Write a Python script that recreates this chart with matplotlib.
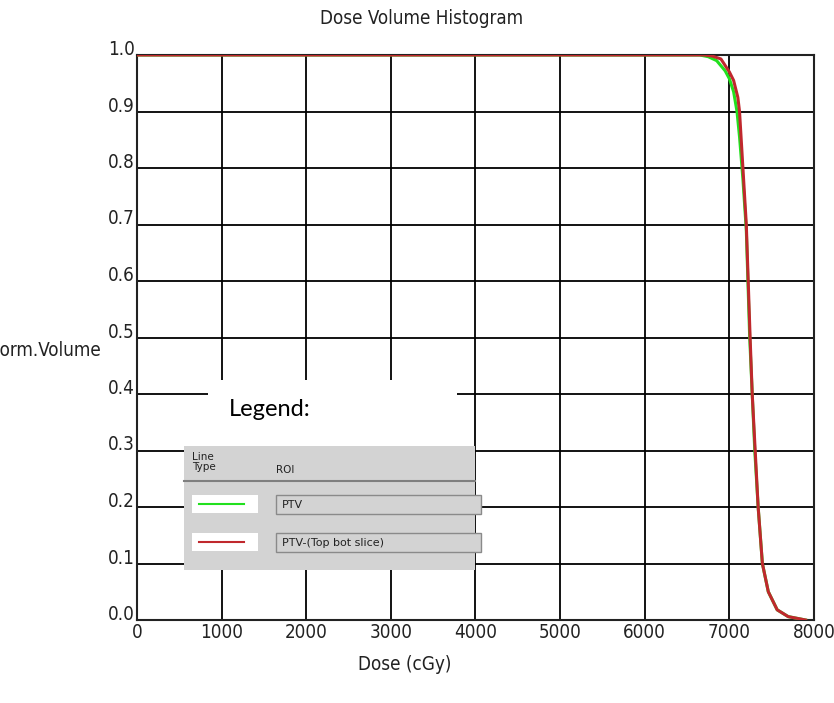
import numpy as np
import matplotlib
matplotlib.use('Agg')
import matplotlib.pyplot as plt
from matplotlib.patches import Rectangle
from matplotlib.lines import Line2D

# Cumulative DVH curves (dose in cGy, normalised volume).
ptv_dose = [0, 6650, 6750, 6850, 6950, 7000, 7050, 7090, 7120, 7160, 7200,
            7240, 7270, 7300, 7340, 7390, 7460, 7565, 7695, 7900]
ptv_vol = [1.0, 1.0, 0.997, 0.99, 0.972, 0.958, 0.935, 0.9, 0.855, 0.78, 0.69,
           0.5, 0.4, 0.3, 0.2, 0.1, 0.05, 0.018, 0.006, 0.0]

slice_dose = [0, 6700, 6800, 6900, 7000, 7050, 7100, 7120, 7160, 7200,
              7245, 7270, 7305, 7340, 7390, 7460, 7565, 7695, 7900]
slice_vol = [1.0, 1.0, 0.998, 0.993, 0.97, 0.955, 0.925, 0.9, 0.8, 0.7,
             0.5, 0.4, 0.3, 0.2, 0.1, 0.05, 0.018, 0.006, 0.0]

x_ticks = [0, 1000, 2000, 3000, 4000, 5000, 6000, 7000, 8000]
y_ticks = [0.0, 0.1, 0.2, 0.3, 0.4, 0.5, 0.6, 0.7, 0.8, 0.9, 1.0]

roi_names = ['PTV', 'PTV-(Top bot slice)']
roi_colors = ['#22e01e', '#c0282d']

# narrow face for the plot texts
cond = dict(family='DejaVu Sans', stretch='condensed', color='#222222')

W, H = 834, 703
fig = plt.figure(figsize=(W / 100, H / 100), dpi=100)
ax = fig.add_axes([137 / W, 1 - 620 / H, 677 / W, 565 / H])

ax.plot(ptv_dose, ptv_vol, color=roi_colors[0], linewidth=2.2, zorder=3)
ax.plot(slice_dose, slice_vol, color=roi_colors[1], linewidth=2.2, zorder=4)

ax.set_xlim(0, 8000)
ax.set_ylim(0, 1.0)
ax.set_xticks(x_ticks)
ax.set_yticks(y_ticks)
ax.set_xticklabels([str(t) for t in x_ticks], fontsize=13.5, **cond)
ax.set_yticklabels(['{:.1f}'.format(t) for t in y_ticks], fontsize=13.5,
                   va='baseline', **cond)
ax.tick_params(axis='x', length=0, pad=2)
ax.tick_params(axis='y', length=0, pad=1.5)
ax.grid(True, color='black', linewidth=1.3)
for s in ax.spines.values():
    s.set_linewidth(1.5)
    s.set_color('#222222')

fig.text(422 / W, 1 - 19 / H, 'Dose Volume Histogram', fontsize=13.5,
         ha='center', va='center', **cond)
fig.text(405 / W, 1 - 665 / H, 'Dose (cGy)', fontsize=13.5,
         ha='center', va='center', **cond)
fig.text(101 / W, 1 - 351 / H, 'Norm.Volume', fontsize=13.5,
         ha='right', va='center', **cond)

# Pasted legend panel drawn on an overlay in pixel coordinates.
ov = fig.add_axes([0, 0, 1, 1])
ov.set_xlim(0, W)
ov.set_ylim(H, 0)
ov.axis('off')

ov.add_patch(Rectangle((208, 380), 249, 66, facecolor='white', edgecolor='none'))
ov.text(229, 409, 'Legend:', family=['Lato', 'DejaVu Sans'], fontsize=17,
        ha='left', va='center', color='black')

ov.add_patch(Rectangle((184, 446), 291, 124, facecolor='#d3d3d3', edgecolor='none'))
ov.text(192, 462, 'Line\nType', fontsize=7.5, ha='left', va='center',
        color='#222222', linespacing=0.95)
ov.text(276, 470, 'ROI', fontsize=7.5, ha='left', va='center', color='#222222')
ov.add_line(Line2D([184, 475], [481, 481], color='#7f7f7f', linewidth=1.5))

for i, (name, col) in enumerate(zip(roi_names, roi_colors)):
    top = 495 + i * 38
    ov.add_patch(Rectangle((192, top), 66, 18, facecolor='white', edgecolor='none'))
    ov.add_line(Line2D([199, 244], [top + 9, top + 9], color=col, linewidth=1.5))
    ov.add_patch(Rectangle((276, top), 205, 19, facecolor='#d3d3d3',
                           edgecolor='#8a8a8a', linewidth=1.0))
    ov.text(282, top + 10, name, fontsize=8, ha='left', va='center', color='#222222')

fig.savefig('out.png', dpi=100)
